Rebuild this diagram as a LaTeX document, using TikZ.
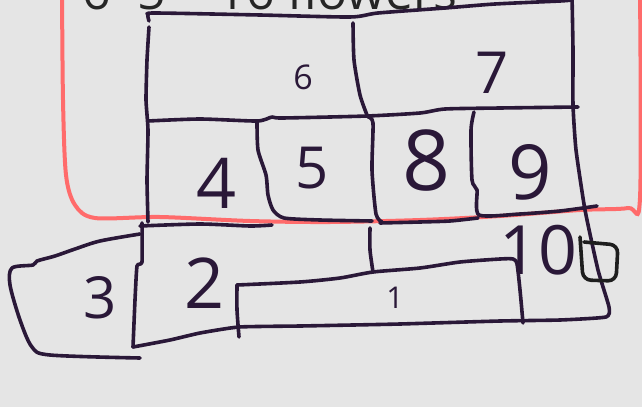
\documentclass[tikz,border=0pt]{standalone}
\usepackage{fontspec}
\setmainfont{Open Sans}
\usepackage{tikz}
\definecolor{ink}{HTML}{2A1838}
\definecolor{marker}{HTML}{FF6B6B}
\definecolor{pen}{HTML}{1E1E1E}
\definecolor{paper}{HTML}{E5E5E5}
\definecolor{heading}{HTML}{262626}
\tikzset{
	sketch/.style={draw=ink, line width=1.8pt, line cap=round, line join=round},
	digit/.style={text=ink, inner sep=0pt, font=\fontsize{#1}{#1}\selectfont},
}

\begin{document}
\begin{tikzpicture}[x=0.5pt, y=-0.5pt]
	\fill[paper] (0,0) rectangle (642,407);
	\useasboundingbox (0,0) rectangle (642,407);
	\clip (0,0) rectangle (642,407);

	\node[text=heading, inner sep=0pt, anchor=base, font=\fontsize{25}{25}\selectfont] (a) at (97,10) {6};
	\node[text=heading, inner sep=0pt, anchor=base, font=\fontsize{25}{25}\selectfont] (b) at (152,10) {5};
	\node[text=heading, inner sep=0pt, anchor=base west, font=\fontsize{25}{25}\selectfont] (total) at (217,10) {16 flowers};

	\draw[marker, line width=2pt, line cap=round] plot[smooth, tension=0.5] coordinates {(62,-10) (63,100) (66,175) (75,205) (95,218) (160,217) (250,221) (330,222) (420,220) (500,216) (580,210) (628,208) (640,198) (640,-10)};

	\draw[sketch] plot[smooth, tension=0.4] coordinates {(149,21) (148,15) (155,13) (260,15) (350,17) (378,13) (445,8) (495,4) (560,1) (572,0)};
	\draw[sketch] plot[smooth, tension=0.3] coordinates {(572,-5) (573,50) (573,105) (576,150) (585,210) (598,270) (609,307) (606,317) (560,320) (500,321) (400,324) (353,325) (300,326) (239,327) (200,333) (170,340) (133,347)};
	\draw[sketch] plot[smooth, tension=0.3] coordinates {(149,27) (147,60) (146,100) (148,130) (147,180) (148,222)};
	\draw[sketch] plot[smooth, tension=0.4] coordinates {(353,23) (354,60) (360,95) (367,115)};
	\draw[sketch] plot[smooth, tension=0.4] coordinates {(148,121) (200,119) (257,121) (272,117) (282,118) (367,116) (420,113) (445,109) (500,108) (578,107)};
	\draw[sketch] plot[smooth, tension=0.4] coordinates {(257,122) (258,150) (266,175) (268,195) (273,210) (284,218) (320,220) (372,221)};
	\draw[sketch] plot[smooth, tension=0.4] coordinates {(368,117) (373,123) (372,170) (376,214) (382,222)};
	\draw[sketch] plot[smooth, tension=0.4] coordinates {(474,112) (471,130) (472,180) (477,190) (479,215) (520,214) (560,211) (597,206)};
	\draw[sketch] plot[smooth, tension=0.4] coordinates {(140,226) (200,224) (250,226) (272,225)};
	\draw[sketch] plot[smooth, tension=0.4] coordinates {(380,223) (420,222) (450,221) (478,218)};

	\draw[sketch] plot[smooth, tension=0.3] coordinates {(142,223) (142,262) (137,266) (135,300) (133,347)};
	\draw[sketch] plot[smooth, tension=0.4] coordinates {(370,228) (370,250) (373,272)};
	\draw[sketch] plot[smooth, tension=0.4] coordinates {(237,285) (300,282) (340,278) (373,272) (420,268) (460,262) (500,259) (513,259) (517,264) (520,290) (523,323)};
	\draw[sketch] plot[smooth, tension=0.4] coordinates {(237,285) (237,310) (239,337)};
	\draw[sketch] plot[smooth, tension=0.5] coordinates {(140,234) (100,241) (75,249) (55,256) (37,261) (33,265) (12,268) (10,285) (20,320) (32,347) (50,355) (140,358)};

	\draw[draw=pen, line width=1.8pt, line cap=round, rounded corners=4pt] (580,237) -- (583,280) -- (616,281) -- (618,245) -- (584,242);

	\node[digit=17] (n6) at (303,77) {6};
	\node[digit=29] (n7) at (492,73) {7};
	\node[digit=35] (n4) at (217,183) {4};
	\node[digit=29] (n5) at (312,168) {5};
	\node[digit=42] (n8) at (427,160) {8};
	\node[digit=38] (n9) at (530,172) {9};
	\node[digit=29] (n3) at (100,298) {3};
	\node[digit=35] (n2) at (205,283) {2};
	\node[digit=15] (n1) at (395,298) {1};
	\node[digit=34] (n10) at (538,250) {10};
\end{tikzpicture}
\end{document}
